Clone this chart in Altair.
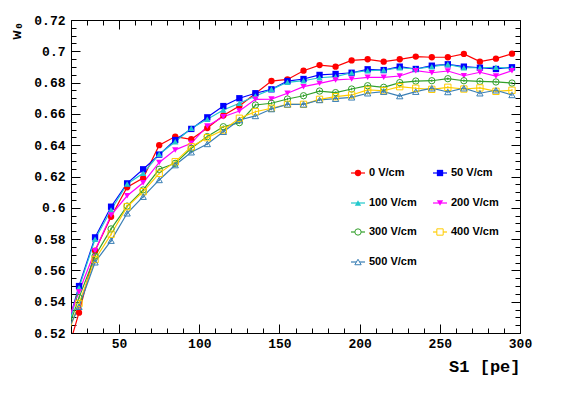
import altair as alt
import pandas as pd

# ---------------- data ----------------
s1 = [15, 25, 35, 45, 55, 65, 75, 85, 95, 105, 115, 125, 135, 145, 155,
      165, 175, 185, 195, 205, 215, 225, 235, 245, 255, 265, 275, 285, 295]

w0_0 = [0.498, 0.533, 0.5726, 0.5943, 0.6131, 0.619, 0.640, 0.6455, 0.6438, 0.651,
        0.659, 0.665, 0.673, 0.681, 0.682, 0.6876, 0.6912, 0.6902, 0.6942, 0.6949,
        0.6934, 0.6949, 0.6966, 0.6962, 0.6962, 0.6983, 0.6934, 0.6953, 0.6985]
w0_50 = [0.514, 0.550, 0.5811, 0.6007, 0.6156, 0.6246, 0.634, 0.6433, 0.6504, 0.6578,
         0.665, 0.670, 0.6732, 0.6757, 0.681, 0.6823, 0.6849, 0.6855, 0.6863, 0.6885,
         0.688, 0.6902, 0.6887, 0.6908, 0.6917, 0.6902, 0.6895, 0.6887, 0.6898]
w0_100 = [0.511, 0.549, 0.5799, 0.5986, 0.6152, 0.622, 0.6342, 0.6422, 0.6508, 0.6566,
          0.6625, 0.6668, 0.6714, 0.6757, 0.6802, 0.6812, 0.6831, 0.6838, 0.6863, 0.6876,
          0.688, 0.6895, 0.6887, 0.6902, 0.6917, 0.6895, 0.6895, 0.6898, 0.6891]
w0_200 = [0.5196, 0.5464, 0.5725, 0.5954, 0.6077, 0.616, 0.629, 0.637, 0.6412, 0.6523,
          0.6582, 0.6618, 0.6693, 0.6695, 0.6732, 0.6774, 0.6795, 0.6817, 0.6823, 0.6834,
          0.6834, 0.6842, 0.6876, 0.6863, 0.6874, 0.6844, 0.6866, 0.6842, 0.6876]
w0_300 = [0.5134, 0.5426, 0.5692, 0.5865, 0.6011, 0.6114, 0.6246, 0.6284, 0.638, 0.6455,
          0.6518, 0.6544, 0.6657, 0.6668, 0.6695, 0.6716, 0.6746, 0.6736, 0.6759, 0.678,
          0.677, 0.68, 0.681, 0.6812, 0.6825, 0.6812, 0.6808, 0.6804, 0.6797]
w0_400 = [0.511, 0.5389, 0.567, 0.5831, 0.6007, 0.6103, 0.622, 0.6295, 0.639, 0.6448,
          0.6497, 0.6572, 0.6614, 0.6636, 0.6661, 0.6661, 0.6693, 0.671, 0.6721, 0.6753,
          0.6748, 0.6774, 0.6764, 0.6757, 0.677, 0.6759, 0.6766, 0.6744, 0.6751]
w0_500 = [0.5152, 0.5368, 0.5652, 0.579, 0.5965, 0.6071, 0.6178, 0.6273, 0.6355, 0.6408,
          0.6486, 0.6561, 0.6587, 0.6631, 0.6661, 0.6661, 0.6689, 0.6697, 0.6706, 0.6732,
          0.6742, 0.6714, 0.6742, 0.6764, 0.674, 0.6764, 0.6732, 0.6751, 0.6721]

series_names = ["0 V/cm", "50 V/cm", "100 V/cm", "200 V/cm", "300 V/cm", "400 V/cm", "500 V/cm"]
series_values = [w0_0, w0_50, w0_100, w0_200, w0_300, w0_400, w0_500]
series_err = [0.0015, 0.0009, 0.0009, 0.0009, 0.0008, 0.0008, 0.0008]
series_colors = ["#ff0000", "#0000ff", "#22c8cc", "#ff00ff", "#33a02c", "#ffcc00", "#3a7fb5"]
series_shapes = ["circle", "square", "triangle-up", "triangle-down", "circle", "square", "triangle-up"]
series_filled = [True, True, True, True, False, False, False]

x_major = [50, 100, 150, 200, 250, 300]
x_minor = list(range(20, 301, 10))
y_major = [0.52, 0.54, 0.56, 0.58, 0.60, 0.62, 0.64, 0.66, 0.68, 0.70, 0.72]
y_minor = [round(0.52 + 0.005 * i, 3) for i in range(41)]

# ---------------- tables ----------------
rows = []
for name, vals, err, filled in zip(series_names, series_values, series_err, series_filled):
    for xv, yv in zip(s1, vals):
        rows.append({"series": name, "s1": xv, "w0": yv, "lo": yv - err, "hi": yv + err,
                     "filled": filled})
df = pd.DataFrame(rows)

# legend layout (pixel positions inside the plot area)
W, H = 449, 313
leg_cols_x = [287, 369]
leg_rows_y = [153, 183, 212, 242]
leg = []
for i, (name, filled) in enumerate(zip(series_names, series_filled)):
    cx = leg_cols_x[i % 2]
    cy = leg_rows_y[i // 2]
    leg.append({"series": name, "mx": cx, "x1": cx - 7, "x2": cx + 7, "tx": cx + 11,
                "y": cy, "filled": filled})
legdf = pd.DataFrame(leg)

color_scale = alt.Scale(domain=series_names, range=series_colors)
shape_scale = alt.Scale(domain=series_names, range=series_shapes)
xs = alt.Scale(domain=[20, 300], nice=False, zero=False)
ys = alt.Scale(domain=[0.52, 0.72], nice=False, zero=False)

base = alt.Chart(df)
X = alt.X("s1:Q", scale=xs, axis=None)
Y = alt.Y("w0:Q", scale=ys, axis=None)
C = alt.Color("series:N", scale=color_scale, legend=None)

lines = base.mark_line(strokeWidth=1.2, clip=True).encode(x=X, y=Y, color=C, detail="series:N")
errs = base.mark_rule(strokeWidth=1, clip=True).encode(
    x=X, y=alt.Y("lo:Q", scale=ys, axis=None), y2="hi:Q", color=C)
pts_f = base.transform_filter("datum.filled").mark_point(
    filled=True, size=40, opacity=1, clip=True).encode(
    x=X, y=Y, color=C, shape=alt.Shape("series:N", scale=shape_scale, legend=None))
pts_o = base.transform_filter("!datum.filled").mark_point(
    filled=False, size=40, strokeWidth=1, opacity=1, clip=True).encode(
    x=X, y=Y, color=C, shape=alt.Shape("series:N", scale=shape_scale, legend=None))

# ---------------- axes (ROOT-style inward ticks on all sides) ----------------
ax_common = dict(domain=False, grid=False, tickColor="black", tickWidth=1,
                 labelFont="Liberation Mono", labelFontWeight="bold", labelFontSize=13,
                 labelColor="black", labelFlush=False, labelOverlap=False, labelBound=False)


def axis_layer(xaxis, yaxis):
    return base.mark_point(opacity=0).encode(
        x=alt.X("s1:Q", scale=xs, axis=xaxis),
        y=alt.Y("w0:Q", scale=ys, axis=yaxis))


ax_major = axis_layer(
    alt.Axis(orient="bottom", values=x_major, tickSize=9, offset=-9, labelPadding=4,
             format="d", title="S1 [pe]", titleFont="Liberation Mono", titleFontWeight="bold",
             titleFontSize=17, titleColor="black", titleAlign="right", titleBaseline="alphabetic",
             titleX=W, titleY=47, **ax_common),
    alt.Axis(orient="left", values=y_major, tickSize=9, offset=-9, labelPadding=6,
             format=".2~f", title="w₀", titleFont="Liberation Mono", titleFontWeight="bold",
             titleFontSize=15, titleColor="black", titleAngle=-90, titleAlign="right",
             titleBaseline="alphabetic", titleX=-60, titleY=1, **ax_common))
ax_minor = axis_layer(
    alt.Axis(orient="bottom", values=x_minor, tickSize=5, offset=-5, labels=False, title=None,
             **ax_common),
    alt.Axis(orient="left", values=y_minor, tickSize=5, offset=-5, labels=False, title=None,
             **ax_common))
ax_major2 = axis_layer(
    alt.Axis(orient="top", values=x_major, tickSize=9, offset=-9, labels=False, title=None,
             **ax_common),
    alt.Axis(orient="right", values=y_major, tickSize=9, offset=-9, labels=False, title=None,
             **ax_common))
ax_minor2 = axis_layer(
    alt.Axis(orient="top", values=x_minor, tickSize=5, offset=-5, labels=False, title=None,
             **ax_common),
    alt.Axis(orient="right", values=y_minor, tickSize=5, offset=-5, labels=False, title=None,
             **ax_common))

# ---------------- legend ----------------
lbase = alt.Chart(legdf)
leg_lines = lbase.mark_rule(strokeWidth=1.2).encode(
    x=alt.X("x1:Q", scale=None, axis=None), x2="x2:Q",
    y=alt.Y("y:Q", scale=None, axis=None), color=C)
leg_pf = lbase.transform_filter("datum.filled").mark_point(filled=True, size=40, opacity=1).encode(
    x=alt.X("mx:Q", scale=None, axis=None), y=alt.Y("y:Q", scale=None, axis=None), color=C,
    shape=alt.Shape("series:N", scale=shape_scale, legend=None))
leg_po = lbase.transform_filter("!datum.filled").mark_point(
    filled=False, size=40, strokeWidth=1, opacity=1, fill="white").encode(
    x=alt.X("mx:Q", scale=None, axis=None), y=alt.Y("y:Q", scale=None, axis=None), color=C,
    shape=alt.Shape("series:N", scale=shape_scale, legend=None))
leg_txt = lbase.mark_text(align="left", baseline="middle", font="Liberation Sans",
                          fontSize=11, fontWeight="bold", color="black").encode(
    x=alt.X("tx:Q", scale=None, axis=None), y=alt.Y("y:Q", scale=None, axis=None),
    text="series:N")

chart = alt.layer(
    ax_major, ax_minor, ax_major2, ax_minor2,
    lines, errs, pts_f, pts_o,
    leg_lines, leg_pf, leg_po, leg_txt,
).resolve_axis(x="independent", y="independent").properties(
    width=W, height=H,
    autosize=alt.AutoSizeParams(type="none"),
    padding={"left": 63, "top": 12, "right": 50, "bottom": 52},
    background="white",
).configure_view(stroke="black", strokeWidth=1)

chart.save("out.html", embed_options={"renderer": "svg", "actions": False})
